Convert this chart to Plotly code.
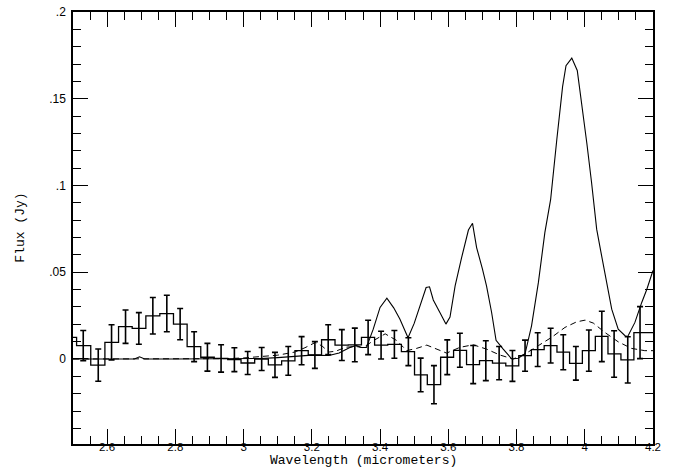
import plotly.graph_objects as go

# Binned data (histogram) with error bars
bin_center = [2.530, 2.574, 2.613, 2.654, 2.693, 2.734, 2.775, 2.814, 2.855, 2.894,
              2.934, 2.973, 3.012, 3.053, 3.092, 3.131, 3.170, 3.209, 3.248, 3.288,
              3.326, 3.365, 3.403, 3.442, 3.483, 3.519, 3.558, 3.597, 3.634, 3.673,
              3.710, 3.749, 3.788, 3.825, 3.862, 3.900, 3.937, 3.974, 4.012, 4.050,
              4.086, 4.126, 4.162]
flux = [0.0077, -0.0035, 0.0096, 0.0186, 0.0176, 0.0249, 0.0262, 0.0201, 0.0071, 0.0010,
        0.0003, -0.0004, -0.0023, 0.0000, -0.0034, -0.0011, 0.0048, 0.0023, 0.0111, 0.0080,
        0.0081, 0.0124, 0.0080, 0.0084, 0.0042, -0.0092, -0.0148, 0.0010, 0.0050, -0.0032,
        -0.0010, -0.0024, -0.0040, 0.0019, 0.0054, 0.0077, 0.0039, -0.0025, 0.0048, 0.0130,
        0.0029, -0.0005, 0.0152]
flux_err = [0.0087, 0.0093, 0.0101, 0.0096, 0.0091, 0.0105, 0.0105, 0.0090, 0.0086, 0.0080,
            0.0079, 0.0069, 0.0066, 0.0066, 0.0072, 0.0083, 0.0081, 0.0077, 0.0086, 0.0089,
            0.0097, 0.0099, 0.0080, 0.0080, 0.0080, 0.0097, 0.0110, 0.0100, 0.0098, 0.0110,
            0.0115, 0.0096, 0.0089, 0.0090, 0.0097, 0.0100, 0.0101, 0.0097, 0.0119, 0.0145,
            0.0134, 0.0133, 0.0150]
# partial bins at the plot edges
lead_x, lead_flux = 2.491, 0.0125
tail_x = 4.2

# Solid model
model1_x = [2.50, 2.60, 2.680, 2.695, 2.710, 2.80, 2.90, 3.00, 3.05, 3.10, 3.15, 3.20,
            3.25, 3.28, 3.31, 3.33, 3.345, 3.36, 3.38, 3.40, 3.42, 3.44, 3.458, 3.478,
            3.482, 3.50, 3.52, 3.535, 3.545, 3.556, 3.575, 3.593, 3.605, 3.62, 3.639,
            3.659, 3.671, 3.683, 3.70, 3.712, 3.727, 3.740, 3.761, 3.786, 3.805, 3.825,
            3.844, 3.864, 3.883, 3.900, 3.918, 3.935, 3.945, 3.962, 3.978, 3.991, 4.006,
            4.020, 4.035, 4.047, 4.059, 4.079, 4.098, 4.118, 4.126, 4.147, 4.167, 4.182, 4.20]
model1_y = [0.0, 0.0, 0.0, 0.0013, 0.0, 0.0, 0.0, 0.0, 0.0003, 0.0008, 0.0015, 0.0022,
            0.0020, 0.0035, 0.0065, 0.0078, 0.0066, 0.0067, 0.0172, 0.0297, 0.0350, 0.0295, 0.0230, 0.0144,
            0.0122, 0.0205, 0.0320, 0.0412, 0.0416, 0.0340, 0.0270, 0.0201, 0.0242, 0.0421, 0.0584,
            0.0743, 0.0782, 0.0642, 0.0520, 0.0421, 0.0268, 0.0108, 0.0057, 0.0000, 0.0004, 0.0030,
            0.0191, 0.0440, 0.0728, 0.0920, 0.1264, 0.1570, 0.1690, 0.1734, 0.1663, 0.1475, 0.1245,
            0.1016, 0.0747, 0.0620, 0.0498, 0.0287, 0.0172, 0.0134, 0.0130, 0.0211, 0.0326, 0.0402, 0.0510]

# Dashed model
model2_x = [2.50, 2.70, 2.90, 2.95, 3.00, 3.05, 3.10, 3.15, 3.18, 3.21, 3.23, 3.25, 3.27,
            3.30, 3.33, 3.35, 3.38, 3.415, 3.45, 3.478, 3.507, 3.537, 3.566, 3.595, 3.634,
            3.673, 3.712, 3.751, 3.790, 3.825, 3.864, 3.903, 3.942, 3.976, 4.001, 4.025,
            4.059, 4.098, 4.137, 4.176, 4.20]
model2_y = [0.0, 0.0, 0.0, 0.0002, 0.0006, 0.0012, 0.0022, 0.0040, 0.0065, 0.0095, 0.0075, 0.0040, 0.0045,
            0.0068, 0.0072, 0.0065, 0.0105, 0.0145, 0.0105, 0.0048, 0.0061, 0.0080, 0.0057, 0.0034, 0.0067,
            0.0082, 0.0057, 0.0023, 0.0000, 0.0029, 0.0077, 0.0125, 0.0182, 0.0214, 0.0224, 0.0207,
            0.0153, 0.0099, 0.0061, 0.0048, 0.0048]

y_label_alias = {"0.05": ".05", "0.1": ".1", "0.15": ".15", "0.2": ".2"}

fig = go.Figure()

step_x = [lead_x] + bin_center + [tail_x]
step_y = [lead_flux] + flux + [flux[-1]]
fig.add_trace(go.Scatter(x=step_x, y=step_y, mode="lines",
                         line=dict(color="black", width=1.3, shape="hvh"),
                         hoverinfo="skip", showlegend=False))
fig.add_trace(go.Scatter(x=bin_center, y=flux, mode="markers",
                         marker=dict(size=1, color="rgba(0,0,0,0)"),
                         error_y=dict(type="data", array=flux_err, visible=True,
                                      color="black", thickness=1.6, width=3),
                         showlegend=False))
fig.add_trace(go.Scatter(x=model1_x, y=model1_y, mode="lines",
                         line=dict(color="black", width=1.1), showlegend=False))
fig.add_trace(go.Scatter(x=model2_x, y=model2_y, mode="lines",
                         line=dict(color="black", width=1, dash="6px,4px"), showlegend=False))

xtickfont = dict(family="Liberation Sans, Arial, sans-serif", size=11.5, color="black")
ytickfont = dict(family="Liberation Sans, Arial, sans-serif", size=12, color="black")
titlefont = dict(family="Liberation Mono, Courier New, monospace", size=13, color="black")

fig.update_layout(
    width=677, height=470,
    margin=dict(l=73, r=24, t=12, b=26),
    paper_bgcolor="white", plot_bgcolor="white",
    xaxis=dict(range=[2.5, 4.2], showgrid=False, zeroline=False, automargin=False,
               showline=True, linecolor="black", linewidth=1.5, mirror="allticks",
               ticks="inside", ticklen=15, tickwidth=1.2, tickcolor="black",
               tickmode="linear", tick0=2.6, dtick=0.2, tickfont=xtickfont,
               ticklabelstandoff=-9,
               minor=dict(ticks="inside", ticklen=8, tickwidth=1.1, tickcolor="black",
                          dtick=0.05, tick0=2.5, showgrid=False)),
    yaxis=dict(range=[-0.049, 0.2], showgrid=False, zeroline=False, automargin=False,
               showline=True, linecolor="black", linewidth=1.5, mirror="allticks",
               ticks="inside", ticklen=15, tickwidth=1.2, tickcolor="black",
               tickmode="linear", tick0=0, dtick=0.05, tickfont=ytickfont,
               labelalias=y_label_alias, ticklabelstandoff=3,
               minor=dict(ticks="inside", ticklen=8, tickwidth=1.1, tickcolor="black",
                          dtick=0.01, tick0=0, showgrid=False)),
    annotations=[
        dict(text="Wavelength (micrometers)", xref="paper", yref="paper",
             x=0.5, y=-0.038, xanchor="center", yanchor="middle",
             showarrow=False, font=titlefont),
        dict(text="Flux (Jy)", xref="paper", yref="paper",
             x=-0.092, y=0.5, xanchor="center", yanchor="middle", textangle=-90,
             showarrow=False, font=titlefont),
    ],
)

fig.write_html("out.html")
